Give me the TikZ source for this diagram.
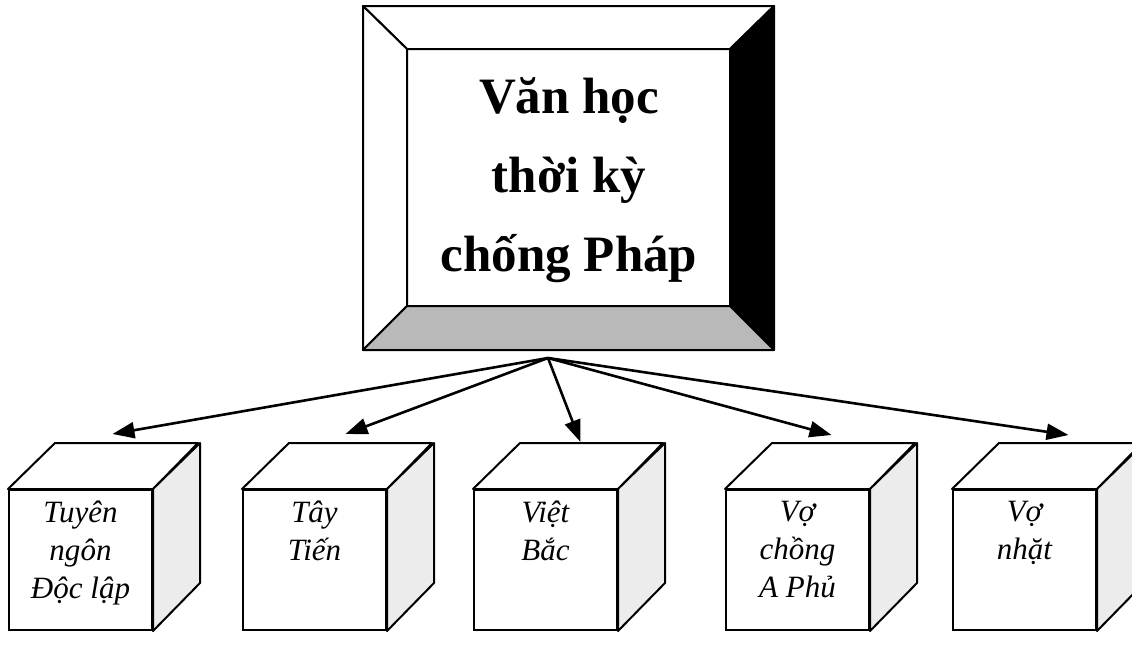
\documentclass[tikz,border=0pt]{standalone}
\usepackage{fontspec}
\setmainfont{Liberation Serif}
\usetikzlibrary{arrows.meta}

\tikzset{
  mat/.style={draw,line width=2pt,minimum width=143pt,minimum height=140pt,inner sep=0pt,anchor=north west,fill=white},
  chu/.style={anchor=north,align=center,inner sep=0pt,yshift=-12pt,font=\itshape\fontsize{31}{38}\selectfont},
  canh/.style={draw,line width=2pt,line join=round},
  muiten/.style={line width=2.6pt,-{Triangle[length=22pt,width=16pt]}}
}

\begin{document}
\begin{tikzpicture}[x=1pt,y=-1pt]
\useasboundingbox (0,0) rectangle (1132,648);

% khung tieu de
\filldraw[canh,fill=white] (363,6) -- (774,6) -- (730,49) -- (407,49) -- cycle;
\filldraw[canh,fill=white] (363,6) -- (407,49) -- (407,306) -- (363,350) -- cycle;
\filldraw[canh,fill=black] (774,6) -- (774,350) -- (730,306) -- (730,49) -- cycle;
\filldraw[canh,fill=gray!55] (363,350) -- (407,306) -- (730,306) -- (774,350) -- cycle;
\draw[canh] (407,49) rectangle (730,306);
\node[align=center,font=\bfseries\fontsize{51}{79}\selectfont] (vh) at (569,180) {Văn học\\thời kỳ\\chống Pháp};
\coordinate (goc) at (548,358);

% cac khoi
\node[mat] (c1) at (8,489) {};
\filldraw[canh,fill=white] (c1.north west) -- ++(47,-46) -- ++(143,0) -- (c1.north east) -- cycle;
\filldraw[canh,fill=gray!15] (c1.north east) -- ++(47,-46) -- ++(0,140) -- (c1.south east) -- cycle;
\node[chu] (t1) at (c1.north) {Tuyên\\ngôn\\Độc lập};

\node[mat] (c2) at (242,489) {};
\filldraw[canh,fill=white] (c2.north west) -- ++(47,-46) -- ++(143,0) -- (c2.north east) -- cycle;
\filldraw[canh,fill=gray!15] (c2.north east) -- ++(47,-46) -- ++(0,140) -- (c2.south east) -- cycle;
\node[chu] (t2) at (c2.north) {Tây\\Tiến};

\node[mat] (c3) at (473,489) {};
\filldraw[canh,fill=white] (c3.north west) -- ++(47,-46) -- ++(143,0) -- (c3.north east) -- cycle;
\filldraw[canh,fill=gray!15] (c3.north east) -- ++(47,-46) -- ++(0,140) -- (c3.south east) -- cycle;
\node[chu] (t3) at (c3.north) {Việt\\Bắc};

\node[mat] (c4) at (725,489) {};
\filldraw[canh,fill=white] (c4.north west) -- ++(47,-46) -- ++(143,0) -- (c4.north east) -- cycle;
\filldraw[canh,fill=gray!15] (c4.north east) -- ++(47,-46) -- ++(0,140) -- (c4.south east) -- cycle;
\node[chu] (t4) at (c4.north) {Vợ\\chồng\\A Phủ};

\node[mat] (c5) at (952,489) {};
\filldraw[canh,fill=white] (c5.north west) -- ++(47,-46) -- ++(143,0) -- (c5.north east) -- cycle;
\filldraw[canh,fill=gray!15] (c5.north east) -- ++(47,-46) -- ++(0,140) -- (c5.south east) -- cycle;
\node[chu] (t5) at (c5.north) {Vợ\\nhặt};

% mui ten
\draw[muiten] (goc) -- ([xshift=32pt,yshift=55pt]c1.north);
\draw[muiten] (goc) -- ([xshift=31pt,yshift=55pt]c2.north);
\draw[muiten] (goc) -- ([xshift=35pt,yshift=47pt]c3.north);
\draw[muiten] (goc) -- ([xshift=34pt,yshift=54pt]c4.north);
\draw[muiten] (goc) -- ([xshift=44pt,yshift=54pt]c5.north);
\end{tikzpicture}
\end{document}
